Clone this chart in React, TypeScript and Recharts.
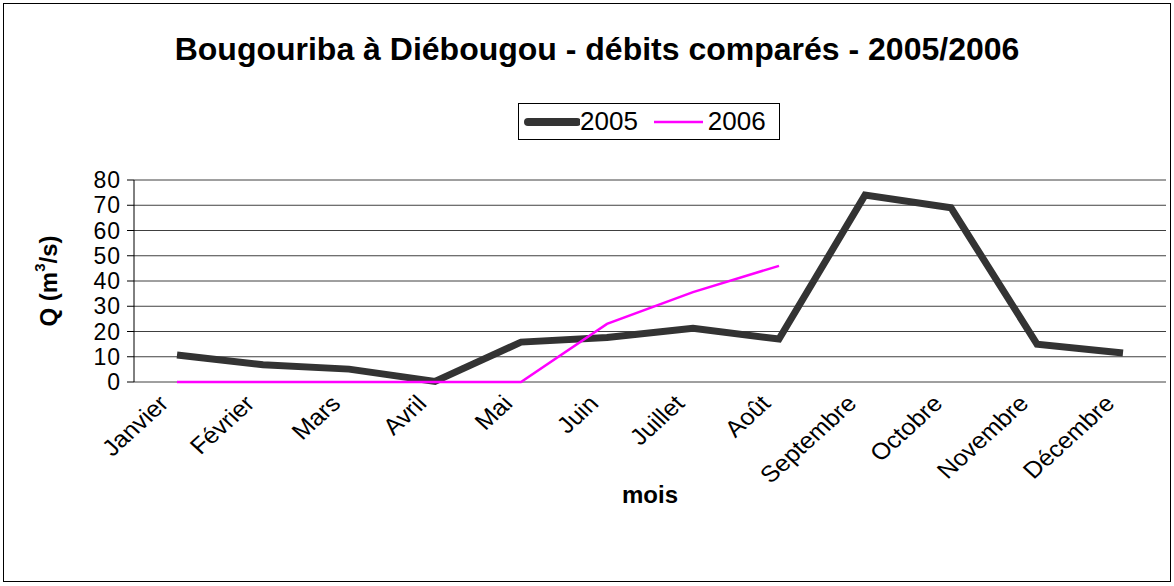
import React from 'react';
import { LineChart, Line, XAxis, YAxis, CartesianGrid, Label } from 'recharts';

const months = ['Janvier', 'Février', 'Mars', 'Avril', 'Mai', 'Juin', 'Juillet', 'Août', 'Septembre', 'Octobre', 'Novembre', 'Décembre'];
const q2005 = [10.7, 6.8, 5.1, 0.2, 15.8, 17.6, 21.3, 17.0, 74.0, 69.0, 15.0, 11.5];
const q2006: (number | null)[] = [0, 0, 0, 0, 0, 23.0, 35.6, 46.0, null, null, null, null];
const yTicks = [0, 10, 20, 30, 40, 50, 60, 70, 80];

const data = months.map((m, i) => ({ x: i + 0.5, month: m, y2005: q2005[i], y2006: q2006[i] }));
const labelTicks = months.map((_, i) => i + 0.5);
const boundaryTicks = months.map((_, i) => i).concat([months.length]);

const font = '"Liberation Sans", Arial, sans-serif';

const MonthTick = (props: any) => {
  const { x, y, payload } = props;
  const name = months[Math.floor(payload.value)];
  return (
    <g transform={`translate(${x - 7}, ${y + 14}) scale(1.1, 1) rotate(-45)`}>
      <text x={0} y={0} textAnchor="end" fontSize={23} fill="#000" fontFamily={font}>{name}</text>
    </g>
  );
};

const QLabel = (props: any) => {
  const { viewBox } = props;
  const cx = 48;
  const cy = viewBox.y + viewBox.height / 2;
  return (
    <text x={cx} y={cy} transform={`rotate(-90, ${cx}, ${cy})`} textAnchor="middle" dominantBaseline="central"
      fontSize={24} fontWeight="bold" fill="#000" fontFamily={font}>
      Q (m<tspan fontSize={15} dy={-9}>3</tspan><tspan dy={9}>/s)</tspan>
    </text>
  );
};

const LegendBox = () => (
  <div style={{ position: 'absolute', left: 518, top: 103, border: '1px solid #000', background: '#fff', display: 'flex', alignItems: 'center', width: 262, height: 37, boxSizing: 'border-box', paddingLeft: 3, fontSize: 26, fontFamily: font }}>
    <svg width={58} height={10}><line x1={6} y1={5} x2={55} y2={5} stroke="#333" strokeWidth={8} strokeLinecap="round" /></svg>
    <span>2005</span>
    <svg width={70} height={10}><line x1={16} y1={5} x2={65} y2={5} stroke="#ff00ff" strokeWidth={2.5} /></svg>
    <span>2006</span>
  </div>
);

export default function App() {
  return (
    <div style={{ position: 'relative', width: 1174, height: 586, background: '#fff', fontFamily: font }}>
      <style>{`body{margin:0}`}</style>
      <div style={{ position: 'absolute', left: 3, top: 3, width: 1166, height: 577, border: '1px solid #000' }} />
      <div style={{ position: 'absolute', top: 31, left: 10, width: 1174, textAlign: 'center', fontSize: 32, fontWeight: 'bold' }}>
        Bougouriba à Diébougou - débits comparés - 2005/2006
      </div>
      <div style={{ position: 'absolute', top: 0, left: 0 }}>
        <LineChart width={1174} height={586} data={data} margin={{ top: 180, right: 8, left: 0, bottom: 79 }}>
          <CartesianGrid horizontal vertical={false} stroke="#000" strokeOpacity={0.75} />
          <XAxis xAxisId="marks" dataKey="x" type="number" domain={[0, 12]} ticks={boundaryTicks} tick={false} tickSize={7} height={1} axisLine={false} stroke="#000" interval={0} />
          <XAxis xAxisId="names" dataKey="x" type="number" domain={[0, 12]} ticks={labelTicks} tick={<MonthTick />} tickLine={false} axisLine={false} height={124} interval={0}>
            <Label value="mois" position="insideBottom" offset={4} style={{ fontSize: 24, fontWeight: 'bold', fill: '#000', fontFamily: font }} />
          </XAxis>
          <YAxis domain={[0, 80]} ticks={yTicks} width={134} tickSize={7} tickMargin={6} stroke="#000" interval={0}
            tick={{ fontSize: 23, fill: '#000', fontFamily: font, letterSpacing: 1 }}>
            <Label content={<QLabel />} />
          </YAxis>
          <Line xAxisId="names" dataKey="y2005" name="2005" stroke="#333" strokeWidth={7} dot={false} isAnimationActive={false} strokeLinejoin="miter" />
          <Line xAxisId="names" dataKey="y2006" name="2006" stroke="#ff00ff" strokeWidth={2.5} dot={false} isAnimationActive={false} connectNulls={false} />
        </LineChart>
      </div>
      <LegendBox />
    </div>
  );
}
